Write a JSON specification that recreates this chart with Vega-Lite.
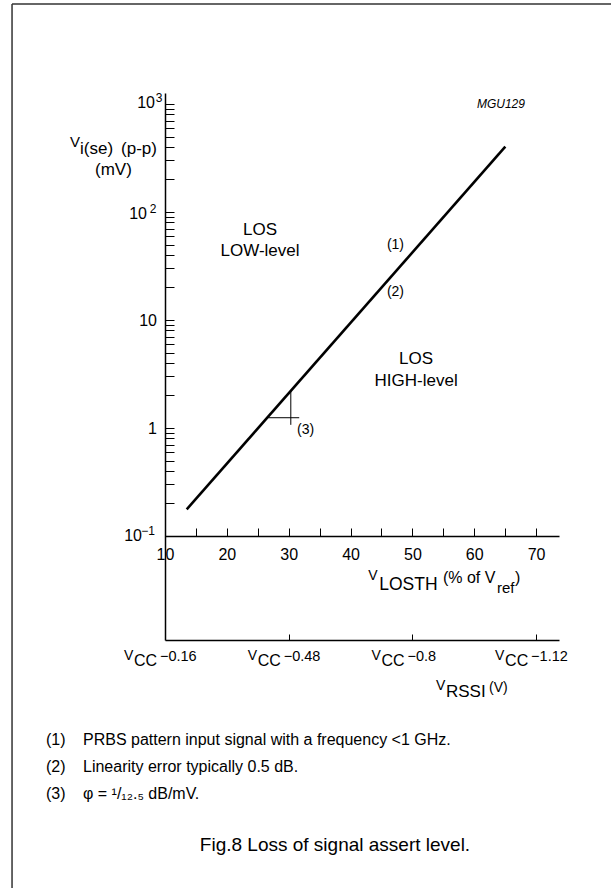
{
  "$schema": "https://vega.github.io/schema/vega-lite/v6.json",
  "width": 394,
  "height": 547,
  "autosize": {"type": "none"},
  "padding": {"left": 165, "top": 93, "right": 52, "bottom": 248},
  "background": "white",
  "data": {"values": [{}]},
  "datasets": {
    "vrssi": [
      {"pos": 10, "num": "−0.16"},
      {"pos": 30, "num": "−0.48"},
      {"pos": 50, "num": "−0.8"},
      {"pos": 70, "num": "−1.12"}
    ]
  },
  "config": {
    "view": {"stroke": null},
    "text": {"font": "Liberation Sans", "fontSize": 17, "color": "black", "baseline": "alphabetic", "align": "left"},
    "axis": {"labelFont": "Liberation Sans", "labelColor": "black", "domainColor": "black", "tickColor": "black", "grid": false, "title": null, "labelFontSize": 16}
  },
  "resolve": {"axis": {"x": "independent", "y": "independent"}},
  "layer": [
    {
      "data": {"values": [{"vlosth": 13.51, "vi": 0.1766}, {"vlosth": 65.02, "vi": 402.6}]},
      "mark": {"type": "line", "color": "black", "strokeWidth": 2.6},
      "encoding": {
        "x": {"field": "vlosth", "type": "quantitative",
          "scale": {"domain": [10, 73.7], "nice": false, "zero": false},
          "axis": {"orient": "bottom", "offset": -104, "values": [10,15,20,25,30,35,40,45,50,55,60,65,70],
            "labelExpr": "datum.value % 10 === 0 ? datum.label : ''", "tickSize": -8, "tickWidth": 1,
            "labelPadding": 18, "domainWidth": 1.5, "labelOverlap": false, "labelFlush": false, "title": null}},
        "y": {"field": "vi", "type": "quantitative",
          "scale": {"type": "log", "domain": [0.01089, 1264.5], "nice": false},
          "axis": {"orient": "left", "values": [0.1,0.2,0.3,0.4,0.5,0.6,0.7,0.8,0.9,1,2,3,4,5,6,7,8,9,10,20,30,40,50,60,70,80,90,100,200,300,400,500,600,700,800,900,1000],
            "labelExpr": "datum.value == 10 ? '10' : datum.value == 1 ? '1' : ''",
            "tickSize": -9, "tickWidth": 1, "labelPadding": 17.5, "domainWidth": 1.5, "labelOverlap": false, "labelFlush": false, "title": null}}
      }
    },
    {
      "data": {"values": [{"x": 26.7, "x2": 31.7, "y": 1.245, "y2": 1.245}, {"x": 30.34, "x2": 30.34, "y": 2.25, "y2": 1.07}]},
      "mark": {"type": "rule", "color": "black", "strokeWidth": 1},
      "encoding": {
        "x": {"field": "x", "type": "quantitative", "axis": null},
        "x2": {"field": "x2"},
        "y": {"field": "y", "type": "quantitative", "scale": {"type": "log"}, "axis": null},
        "y2": {"field": "y2"}
      }
    },
    {
      "data": {"name": "vrssi"},
      "mark": {"type": "text", "text": "V", "fontSize": 14, "dx": -41},
      "encoding": {
        "x": {"field": "pos", "type": "quantitative",
          "axis": {"orient": "bottom", "offset": 0, "values": [30, 50, 70], "tickSize": -6, "tickWidth": 1, "labels": false, "domainWidth": 1.5, "title": null}},
        "y": {"datum": 0.00711, "type": "quantitative", "scale": {"type": "log"}, "axis": null}
      }
    },
    {
      "data": {"name": "vrssi"},
      "mark": {"type": "text", "text": "CC", "fontSize": 16, "dx": -31},
      "encoding": {
        "x": {"field": "pos", "type": "quantitative", "axis": null},
        "y": {"datum": 0.006254, "type": "quantitative", "scale": {"type": "log"}, "axis": null}
      }
    },
    {
      "data": {"name": "vrssi"},
      "mark": {"type": "text", "fontSize": 14.5, "dx": -5},
      "encoding": {
        "x": {"field": "pos", "type": "quantitative", "axis": null},
        "y": {"datum": 0.006963, "type": "quantitative", "scale": {"type": "log"}, "axis": null},
        "text": {"field": "num"}
      }
    },
    {"mark": {"type": "text", "text": "10", "fontSize": 16, "align": "right", "baseline": "middle", "dx": -10, "dy": -1},
     "encoding": {"x": {"datum": 10, "type": "quantitative", "axis": null}, "y": {"datum": 1000, "type": "quantitative", "scale": {"type": "log"}, "axis": null}}},
    {"mark": {"type": "text", "text": "3", "fontSize": 12, "align": "right", "dx": -2.5, "dy": -2},
     "encoding": {"x": {"datum": 10, "type": "quantitative", "axis": null}, "y": {"datum": 1000, "type": "quantitative", "scale": {"type": "log"}, "axis": null}}},
    {"mark": {"type": "text", "text": "10", "fontSize": 16, "align": "right", "baseline": "middle", "dx": -18, "dy": 2},
     "encoding": {"x": {"datum": 10, "type": "quantitative", "axis": null}, "y": {"datum": 100, "type": "quantitative", "scale": {"type": "log"}, "axis": null}}},
    {"mark": {"type": "text", "text": "2", "fontSize": 12, "align": "right", "dx": -8.5, "dy": 1},
     "encoding": {"x": {"datum": 10, "type": "quantitative", "axis": null}, "y": {"datum": 100, "type": "quantitative", "scale": {"type": "log"}, "axis": null}}},
    {"mark": {"type": "text", "text": "10", "fontSize": 16, "align": "right", "baseline": "middle", "dx": -23, "dy": 0},
     "encoding": {"x": {"datum": 10, "type": "quantitative", "axis": null}, "y": {"datum": 0.1, "type": "quantitative", "scale": {"type": "log"}, "axis": null}}},
    {"mark": {"type": "text", "text": "−1", "fontSize": 12, "align": "right", "dx": -10, "dy": -1},
     "encoding": {"x": {"datum": 10, "type": "quantitative", "axis": null}, "y": {"datum": 0.1, "type": "quantitative", "scale": {"type": "log"}, "axis": null}}},
    {"mark": {"type": "rule", "color": "#333", "strokeWidth": 1.5},
     "encoding": {"x": {"datum": -14.73, "type": "quantitative", "axis": null}, "x2": {"datum": 83},
       "y": {"datum": 8433, "type": "quantitative", "scale": {"type": "log"}, "axis": null}}},
    {"mark": {"type": "rule", "color": "#333", "strokeWidth": 1.5},
     "encoding": {"x": {"datum": -14.73, "type": "quantitative", "axis": null},
       "y": {"datum": 8433, "type": "quantitative", "scale": {"type": "log"}, "axis": null}, "y2": {"datum": 0.00001}}},
    {"mark": {"type": "text", "text": "MGU129", "fontSize": 12, "fontStyle": "italic", "align": "right"},
     "encoding": {"x": {"datum": 68.2, "type": "quantitative", "axis": null}, "y": {"datum": 918, "type": "quantitative", "scale": {"type": "log"}, "axis": null}}},
    {"mark": {"type": "text", "text": "V", "fontSize": 15},
     "encoding": {"x": {"datum": -5.357, "type": "quantitative", "axis": null}, "y": {"datum": 399.8, "type": "quantitative", "scale": {"type": "log"}, "axis": null}}},
    {"mark": {"type": "text", "text": "i(se)", "fontSize": 17},
     "encoding": {"x": {"datum": -3.74, "type": "quantitative", "axis": null}, "y": {"datum": 344.4, "type": "quantitative", "scale": {"type": "log"}, "axis": null}}},
    {"mark": {"type": "text", "text": "(p-p)", "fontSize": 17},
     "encoding": {"x": {"datum": 2.89, "type": "quantitative", "axis": null}, "y": {"datum": 344.4, "type": "quantitative", "scale": {"type": "log"}, "axis": null}}},
    {"mark": {"type": "text", "text": "(mV)", "fontSize": 17},
     "encoding": {"x": {"datum": -1.316, "type": "quantitative", "axis": null}, "y": {"datum": 220.0, "type": "quantitative", "scale": {"type": "log"}, "axis": null}}},
    {"mark": {"type": "text", "text": "LOS", "align": "center"},
     "encoding": {"x": {"datum": 25.36, "type": "quantitative", "axis": null}, "y": {"datum": 61.24, "type": "quantitative", "scale": {"type": "log"}, "axis": null}}},
    {"mark": {"type": "text", "text": "LOW-level", "align": "center"},
     "encoding": {"x": {"datum": 25.36, "type": "quantitative", "axis": null}, "y": {"datum": 39.14, "type": "quantitative", "scale": {"type": "log"}, "axis": null}}},
    {"mark": {"type": "text", "text": "LOS", "align": "center"},
     "encoding": {"x": {"datum": 50.6, "type": "quantitative", "axis": null}, "y": {"datum": 3.914, "type": "quantitative", "scale": {"type": "log"}, "axis": null}}},
    {"mark": {"type": "text", "text": "HIGH-level", "align": "center"},
     "encoding": {"x": {"datum": 50.6, "type": "quantitative", "axis": null}, "y": {"datum": 2.448, "type": "quantitative", "scale": {"type": "log"}, "axis": null}}},
    {"mark": {"type": "text", "text": "(1)", "fontSize": 14, "align": "center"},
     "encoding": {"x": {"datum": 47.26, "type": "quantitative", "axis": null}, "y": {"datum": 45.44, "type": "quantitative", "scale": {"type": "log"}, "axis": null}}},
    {"mark": {"type": "text", "text": "(2)", "fontSize": 14, "align": "center"},
     "encoding": {"x": {"datum": 47.26, "type": "quantitative", "axis": null}, "y": {"datum": 16.68, "type": "quantitative", "scale": {"type": "log"}, "axis": null}}},
    {"mark": {"type": "text", "text": "(3)", "fontSize": 14},
     "encoding": {"x": {"datum": 31.34, "type": "quantitative", "axis": null}, "y": {"datum": 0.88, "type": "quantitative", "scale": {"type": "log"}, "axis": null}}},
    {"mark": {"type": "text", "text": "V", "fontSize": 14},
     "encoding": {"x": {"datum": 42.86, "type": "quantitative", "axis": null}, "y": {"datum": 0.03914, "type": "quantitative", "scale": {"type": "log"}, "axis": null}}},
    {"mark": {"type": "text", "text": "LOSTH", "fontSize": 17.5},
     "encoding": {"x": {"datum": 44.64, "type": "quantitative", "axis": null}, "y": {"datum": 0.03162, "type": "quantitative", "scale": {"type": "log"}, "axis": null}}},
    {"mark": {"type": "text", "text": "(% of V", "fontSize": 16},
     "encoding": {"x": {"datum": 54.94, "type": "quantitative", "axis": null}, "y": {"datum": 0.03671, "type": "quantitative", "scale": {"type": "log"}, "axis": null}}},
    {"mark": {"type": "text", "text": "ref", "fontSize": 15},
     "encoding": {"x": {"datum": 63.67, "type": "quantitative", "axis": null}, "y": {"datum": 0.02966, "type": "quantitative", "scale": {"type": "log"}, "axis": null}}},
    {"mark": {"type": "text", "text": ")", "fontSize": 16},
     "encoding": {"x": {"datum": 66.58, "type": "quantitative", "axis": null}, "y": {"datum": 0.03671, "type": "quantitative", "scale": {"type": "log"}, "axis": null}}},
    {"mark": {"type": "text", "text": "V", "fontSize": 14},
     "encoding": {"x": {"datum": 53.81, "type": "quantitative", "axis": null}, "y": {"datum": 0.00375, "type": "quantitative", "scale": {"type": "log"}, "axis": null}}},
    {"mark": {"type": "text", "text": "RSSI", "fontSize": 17},
     "encoding": {"x": {"datum": 55.43, "type": "quantitative", "axis": null}, "y": {"datum": 0.00323, "type": "quantitative", "scale": {"type": "log"}, "axis": null}}},
    {"mark": {"type": "text", "text": "(V)", "fontSize": 14},
     "encoding": {"x": {"datum": 62.38, "type": "quantitative", "axis": null}, "y": {"datum": 0.003594, "type": "quantitative", "scale": {"type": "log"}, "axis": null}}},
    {"mark": {"type": "text", "text": "(1)", "fontSize": 16},
     "encoding": {"x": {"datum": -9.24, "type": "quantitative", "axis": null}, "y": {"datum": 0.001161, "type": "quantitative", "scale": {"type": "log"}, "axis": null}}},
    {"mark": {"type": "text", "text": "PRBS pattern input signal with a frequency <1 GHz.", "fontSize": 16},
     "encoding": {"x": {"datum": -3.26, "type": "quantitative", "axis": null}, "y": {"datum": 0.001161, "type": "quantitative", "scale": {"type": "log"}, "axis": null}}},
    {"mark": {"type": "text", "text": "(2)", "fontSize": 16},
     "encoding": {"x": {"datum": -9.24, "type": "quantitative", "axis": null}, "y": {"datum": 0.000653, "type": "quantitative", "scale": {"type": "log"}, "axis": null}}},
    {"mark": {"type": "text", "text": "Linearity error typically 0.5 dB.", "fontSize": 16},
     "encoding": {"x": {"datum": -3.26, "type": "quantitative", "axis": null}, "y": {"datum": 0.000653, "type": "quantitative", "scale": {"type": "log"}, "axis": null}}},
    {"mark": {"type": "text", "text": "(3)", "fontSize": 16},
     "encoding": {"x": {"datum": -9.24, "type": "quantitative", "axis": null}, "y": {"datum": 0.000367, "type": "quantitative", "scale": {"type": "log"}, "axis": null}}},
    {"mark": {"type": "text", "text": "φ = ¹/₁₂.₅ dB/mV.", "fontSize": 16},
     "encoding": {"x": {"datum": -3.26, "type": "quantitative", "axis": null}, "y": {"datum": 0.000367, "type": "quantitative", "scale": {"type": "log"}, "axis": null}}},
    {"mark": {"type": "text", "text": "Fig.8  Loss of signal assert level.", "fontSize": 19, "align": "center"},
     "encoding": {"x": {"datum": 37.48, "type": "quantitative", "axis": null}, "y": {"datum": 0.0001212, "type": "quantitative", "scale": {"type": "log"}, "axis": null}}}
  ]
}
